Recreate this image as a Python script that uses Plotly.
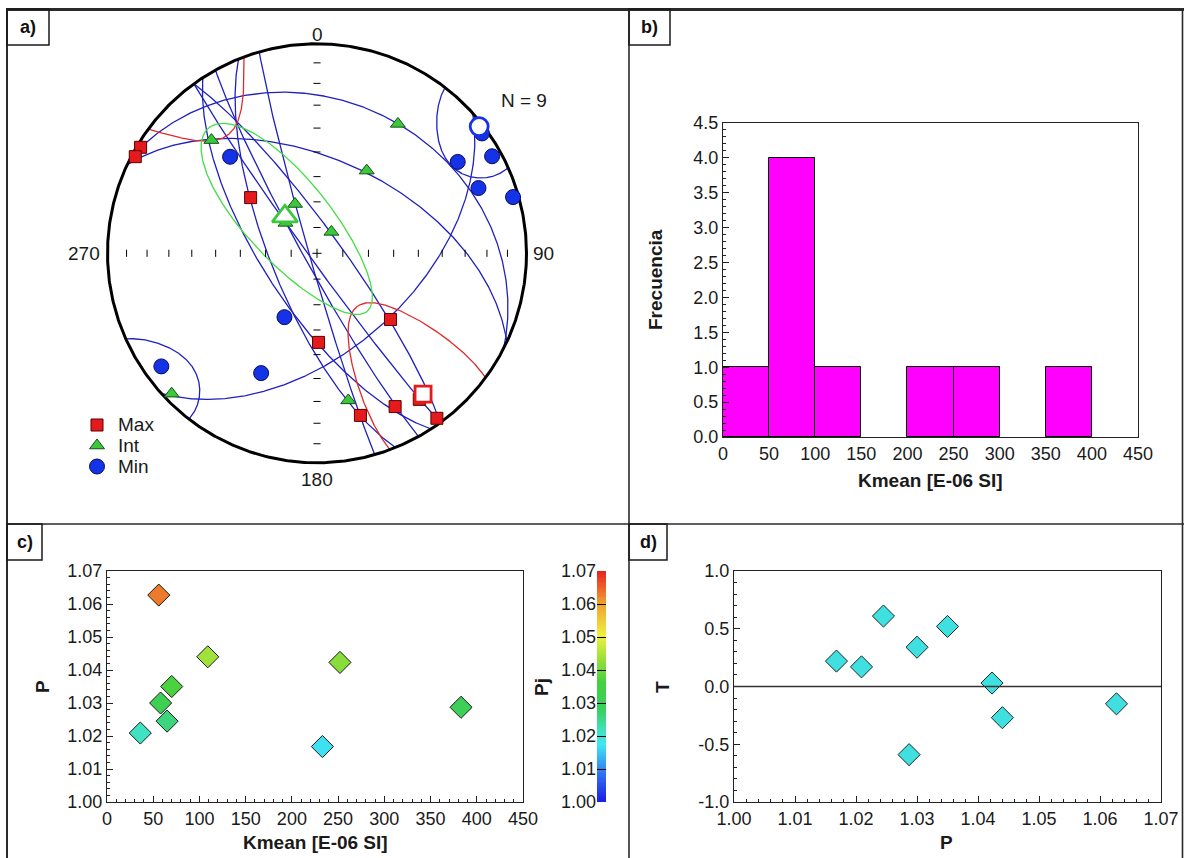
import numpy as np
import plotly.graph_objects as go

W, H = 1184, 858
FONT = "Arial, 'Liberation Sans', sans-serif"

# ---------------------------------------------------------------
# Principal susceptibility axes of the 9 specimens (trend, plunge in degrees)
k1_trend = [301, 298, 310, 132, 179, 145, 153, 165, 144]
k1_plunge = [2, 2, 56, 51, 55, 16, 19, 21, 3]
k2_trend = [317, 32, 31, 336, 314, 34, 226, 168, 319]
k2_plunge = [27, 28, 52, 69, 73, 80, 4, 29, 71]
k3_trend = [318, 57, 61, 68, 74, 54, 207, 234, 205]
k3_plunge = [38, 21, 5, 18, 3, 3, 62, 9, 37]

# Mean tensor axes (Max, Int, Min) and their confidence ellipses (degrees)
mean_trend = [143, 319, 52]
mean_plunge = [17, 71, 2]
ell_major = [47, 49, 23]
ell_minor = [18, 16, 14]
ell_rot = [0, 0, 10]

# Scalar parameters per specimen
P_values = [1.0168, 1.0209, 1.0245, 1.0287, 1.0300, 1.0350, 1.0423, 1.0440, 1.0627]
T_values = [0.22, 0.17, 0.61, -0.59, 0.34, 0.52, 0.03, -0.27, -0.15]
Pj_values = [1.017, 1.021, 1.026, 1.030, 1.031, 1.037, 1.042, 1.044, 1.063]
kmean = [233, 36, 65, 383, 58, 70, 252, 109, 56]

# Tick labels
hist_xticks = [0, 50, 100, 150, 200, 250, 300, 350, 400, 450]
p_ticks = [1.00, 1.01, 1.02, 1.03, 1.04, 1.05, 1.06, 1.07]
t_ticks = [-1.0, -0.5, 0.0, 0.5, 1.0]
freq_ticks = [0.0, 0.5, 1.0, 1.5, 2.0, 2.5, 3.0, 3.5, 4.0, 4.5]

PJ_SCALE = [
    [0.00, "#1A1AE6"], [0.12, "#3070F0"], [0.25, "#3FE8F2"], [0.32, "#3FE0B0"],
    [0.40, "#3ACF60"], [0.52, "#45D040"], [0.62, "#9AE03A"], [0.72, "#F0F040"],
    [0.86, "#F0A030"], [1.00, "#E82020"],
]

# ---------------------------------------------------------------
# Equal-area (Schmidt) lower-hemisphere projection helpers
R2 = np.sqrt(2.0)


def to_vec(trend, plunge):
    t = np.radians(np.atleast_1d(np.asarray(trend, float)))
    p = np.radians(np.atleast_1d(np.asarray(plunge, float)))
    return np.array([np.cos(p) * np.sin(t), np.cos(p) * np.cos(t), np.sin(p)])


def schmidt(v):
    v = np.array(v, float).reshape(3, -1)
    v = v / np.linalg.norm(v, axis=0)
    up = v[2] < 0
    v[:, up] *= -1
    c = np.arccos(np.clip(v[2], -1, 1))
    r = R2 * np.sin(c / 2)
    h = np.hypot(v[0], v[1])
    h = np.where(h < 1e-12, 1.0, h)
    return r * v[0] / h, r * v[1] / h


def great_circle(pole):
    p = pole / np.linalg.norm(pole)
    h = np.cross(p, [0.0, 0.0, 1.0])
    h /= np.linalg.norm(h)
    w = np.cross(p, h)
    w /= np.linalg.norm(w)
    if w[2] < 0:
        w = -w
    th = np.linspace(0, np.pi, 361)
    v = np.outer(h, np.cos(th)) + np.outer(w, np.sin(th))
    return schmidt(v)


def cone(trend, plunge, a, b, rot, n=1441):
    t, p = np.radians(trend), np.radians(plunge)
    m = to_vec(trend, plunge)[:, 0]
    e1 = np.array([-np.sin(p) * np.sin(t), -np.sin(p) * np.cos(t), np.cos(p)])
    e2 = np.cross(m, e1)
    g = np.radians(rot)
    M = np.cos(g) * e1 + np.sin(g) * e2
    N = -np.sin(g) * e1 + np.cos(g) * e2
    s = np.linspace(0, 2 * np.pi, n)
    A, B = np.radians(a), np.radians(b)
    rho = A * B / np.sqrt((B * np.cos(s)) ** 2 + (A * np.sin(s)) ** 2)
    v = np.outer(m, np.cos(rho)) + np.sin(rho) * (np.outer(M, np.cos(s)) + np.outer(N, np.sin(s)))
    up = v[2] < 0
    x, y = schmidt(v)
    xs, ys = [], []
    for i in range(n):
        if i > 0 and up[i] != up[i - 1]:
            xs.append(None)
            ys.append(None)
        xs.append(x[i])
        ys.append(y[i])
    return xs, ys


def px(xp):
    return xp / W


def py(yp):
    return 1 - yp / H


fig = go.Figure()

# ---------------------------------------------------------------
# a) stereonet
CX, CY, RAD = 317, 253.3, 209.5
BLUE_LINE = "#2020C0"
gx, gy = [], []
for tr, pl in zip(k3_trend, k3_plunge):
    x, y = great_circle(to_vec(tr, pl)[:, 0])
    gx += list(x) + [None]
    gy += list(y) + [None]
fig.add_trace(go.Scatter(x=gx, y=gy, mode="lines", line=dict(color=BLUE_LINE, width=1.3),
                         xaxis="x", yaxis="y", hoverinfo="skip", showlegend=False))

ell_colors = ["#E02A2A", "#44DD44", BLUE_LINE]
for i in range(3):
    ex, ey = cone(mean_trend[i], mean_plunge[i], ell_major[i], ell_minor[i], ell_rot[i])
    fig.add_trace(go.Scatter(x=ex, y=ey, mode="lines", line=dict(color=ell_colors[i], width=1.3),
                             xaxis="x", yaxis="y", hoverinfo="skip", showlegend=False))

# primitive circle
ang = np.linspace(0, 2 * np.pi, 721)
fig.add_trace(go.Scatter(x=np.cos(ang), y=np.sin(ang), mode="lines",
                         line=dict(color="black", width=3), xaxis="x", yaxis="y",
                         hoverinfo="skip", showlegend=False))

# plunge ticks along the N-S and E-W diameters, every 10 degrees
tick_r = [R2 * np.sin(np.radians(90 - pl) / 2) for pl in range(10, 90, 10)]
tl = 0.017
tx, ty = [], []
for r in tick_r:
    for sgn in (1, -1):
        tx += [-tl, tl, None]
        ty += [sgn * r, sgn * r, None]
        tx += [sgn * r, sgn * r, None]
        ty += [-tl, tl, None]
tx += [-0.022, 0.022, None, 0, 0]
ty += [0, 0, None, -0.022, 0.022]
fig.add_trace(go.Scatter(x=tx, y=ty, mode="lines", line=dict(color="black", width=1),
                         xaxis="x", yaxis="y", hoverinfo="skip", showlegend=False))

RED, GREEN, BLUE = "#E41A1C", "#3CC83C", "#1533E6"
EDGES = ["#5a0000", "#145214", "#0a0a60"]
SYMS = ["square", "triangle-up", "circle"]
SIZES = [12, 13, 15]
for (tr, pl), sym, col, edge, size in zip([(k1_trend, k1_plunge), (k2_trend, k2_plunge), (k3_trend, k3_plunge)],
                                          SYMS, [RED, GREEN, BLUE], EDGES, SIZES):
    x, y = schmidt(to_vec(tr, pl))
    fig.add_trace(go.Scatter(x=x, y=y, mode="markers", cliponaxis=False,
                             marker=dict(symbol=sym, size=size, color=col, line=dict(color=edge, width=1)),
                             xaxis="x", yaxis="y", hoverinfo="skip", showlegend=False))

for i, (sym, col, size) in enumerate([("square", RED, 16), ("triangle-up", GREEN, 22), ("circle", BLUE, 18)]):
    x, y = schmidt(to_vec(mean_trend[i], mean_plunge[i]))
    fig.add_trace(go.Scatter(x=x, y=y, mode="markers", cliponaxis=False,
                             marker=dict(symbol=sym, size=size, color="white", line=dict(color=col, width=2.8)),
                             xaxis="x", yaxis="y", hoverinfo="skip", showlegend=False))

# legend of the stereonet
leg_names = ["Max", "Int", "Min"]
leg_y = [425, 445.5, 466.5]
for yp, sym, col, edge, size in zip(leg_y, SYMS, [RED, GREEN, BLUE], EDGES, SIZES):
    fig.add_trace(go.Scatter(x=[(97 - CX) / RAD], y=[(CY - yp) / RAD], mode="markers",
                             cliponaxis=False,
                             marker=dict(symbol=sym, size=size, color=col, line=dict(color=edge, width=1)),
                             xaxis="x", yaxis="y", hoverinfo="skip", showlegend=False))

# ---------------------------------------------------------------
# b) histogram of Kmean
fig.add_trace(go.Histogram(x=kmean, xbins=dict(start=0, end=450, size=50), autobinx=False,
                           marker=dict(color="#FF00FF", line=dict(color="black", width=1)),
                           xaxis="x2", yaxis="y2", showlegend=False, hoverinfo="skip"))

# ---------------------------------------------------------------
# c) P vs Kmean coloured by Pj
fig.add_trace(go.Scatter(x=kmean, y=P_values, mode="markers", cliponaxis=False,
                         marker=dict(symbol="diamond", size=17, color=Pj_values, colorscale=PJ_SCALE,
                                     cmin=1.0, cmax=1.07, showscale=False,
                                     line=dict(color="#1a1a1a", width=1)),
                         xaxis="x3", yaxis="y3", showlegend=False, hoverinfo="skip"))

# Pj colour bar
levels = np.linspace(1.0, 1.07, 141)
fig.add_trace(go.Heatmap(z=[[v] for v in levels], x=[0], y=levels, colorscale=PJ_SCALE,
                         zmin=1.0, zmax=1.07, showscale=False, xaxis="x5", yaxis="y5",
                         hoverinfo="skip"))

# ---------------------------------------------------------------
# d) T vs P
fig.add_trace(go.Scatter(x=P_values, y=T_values, mode="markers", cliponaxis=False,
                         marker=dict(symbol="diamond", size=17, color="#40E0E0",
                                     line=dict(color="#1a2a2a", width=1)),
                         xaxis="x4", yaxis="y4", showlegend=False, hoverinfo="skip"))

# ---------------------------------------------------------------
tickfont = dict(family=FONT, size=18, color="#1a1a1a")
frame_axis = dict(showline=True, linecolor="#222", linewidth=1, mirror=True, showgrid=False,
                  zeroline=False, tickfont=tickfont, tickcolor="#222", fixedrange=True,
                  automargin=False)

S = 229.5 / RAD
fig.update_layout(
    template="none",
    width=W, height=H, margin=dict(l=0, r=0, t=0, b=0, pad=0, autoexpand=False),
    paper_bgcolor="white", plot_bgcolor="white",
    font=dict(family=FONT, color="#1a1a1a"),
    bargap=0,
    xaxis=dict(domain=[px(CX - 229.5), px(CX + 229.5)], range=[-S, S], visible=False, anchor="y",
               automargin=False),
    yaxis=dict(domain=[py(CY + 229.5), py(CY - 229.5)], range=[-S, S], visible=False, anchor="x",
               automargin=False),
    xaxis2=dict(frame_axis, domain=[px(723), px(1138)], anchor="y2", range=[0, 450],
                tickmode="array", tickvals=hist_xticks, ticks=""),
    yaxis2=dict(frame_axis, domain=[py(437), py(123)], anchor="x2", range=[0, 4.5],
                tickmode="array", tickvals=freq_ticks, ticktext=[f"{v:.1f}" for v in freq_ticks],
                ticks="inside", ticklen=6,
                minor=dict(dtick=0.1, tick0=0, ticks="inside", ticklen=3, tickcolor="#222")),
    xaxis3=dict(frame_axis, domain=[px(107), px(523)], anchor="y3", range=[0, 450],
                tickmode="array", tickvals=hist_xticks, ticks="inside", ticklen=6,
                minor=dict(dtick=10, tick0=0, ticks="inside", ticklen=3, tickcolor="#222")),
    yaxis3=dict(frame_axis, domain=[py(802), py(571)], anchor="x3", range=[1.0, 1.07],
                tickmode="array", tickvals=p_ticks, ticktext=[f"{v:.2f}" for v in p_ticks],
                ticks="inside", ticklen=6,
                minor=dict(dtick=0.002, tick0=1.0, ticks="inside", ticklen=3, tickcolor="#222")),
    xaxis4=dict(frame_axis, domain=[px(734), px(1161)], anchor="y4", range=[1.0, 1.07],
                tickmode="array", tickvals=p_ticks, ticktext=[f"{v:.2f}" for v in p_ticks],
                ticks="inside", ticklen=6,
                minor=dict(dtick=0.002, tick0=1.0, ticks="inside", ticklen=3, tickcolor="#222")),
    yaxis4=dict(frame_axis, domain=[py(802), py(571)], anchor="x4", range=[-1.0, 1.0],
                tickmode="array", tickvals=t_ticks, ticktext=[f"{v:.1f}" for v in t_ticks],
                ticks="inside", ticklen=6,
                minor=dict(dtick=0.1, tick0=-1.0, ticks="inside", ticklen=3, tickcolor="#222")),
    xaxis5=dict(domain=[px(597), px(606)], anchor="y5", range=[-0.5, 0.5], visible=False,
                automargin=False),
    yaxis5=dict(domain=[py(802), py(571)], anchor="x5", range=[1.0, 1.07], side="left",
                tickmode="array", tickvals=p_ticks, ticktext=[f"{v:.2f}" for v in p_ticks],
                ticks="inside", ticklen=9, tickcolor="black", tickwidth=1.2,
                showline=False, showgrid=False, zeroline=False, tickfont=tickfont, fixedrange=True,
                automargin=False),
)

# zero line in the T-P plot
fig.add_shape(type="line", xref="x4 domain", yref="y4", x0=0, x1=1, y0=0, y1=0,
              line=dict(color="#333", width=1.5))

# panel frame
for x0, y0, x1, y1, wd in [
    (6, 9.5, 1184, 9.5, 3), (7, 9, 7, 858, 2), (629, 9, 629, 858, 1.6),
    (7, 524, 1184, 524, 1.6), (1182.5, 9, 1182.5, 858, 1.6),
]:
    fig.add_shape(type="line", xref="paper", yref="paper", x0=px(x0), x1=px(x1), y0=py(y0), y1=py(y1),
                  line=dict(color="#2a2a2a", width=wd))

# panel label boxes
for lab, (x0, y0, x1, y1) in [("a)", (7, 9, 49, 45)), ("b)", (629, 9, 670, 45)),
                               ("c)", (7, 524, 42, 560)), ("d)", (629, 524, 667, 560))]:
    fig.add_shape(type="rect", xref="paper", yref="paper", x0=px(x0), x1=px(x1), y0=py(y1), y1=py(y0),
                  line=dict(color="#1a1a1a", width=1.5), fillcolor="rgba(0,0,0,0)")
    fig.add_annotation(x=px((x0 + x1) / 2), y=py((y0 + y1) / 2), xref="paper", yref="paper",
                       xanchor="center", yanchor="middle",
                       text=f"<b>{lab}</b>", showarrow=False, font=dict(family=FONT, size=18, color="#111"))

# stereonet labels
lab_font = dict(family=FONT, size=19, color="#1a1a1a")
for text, x, y, xa in [("0", 0, 1.045, "center"), ("180", 0, -1.078, "center"),
                       ("270", -1.025, 0, "right"), ("90", 1.022, 0, "left")]:
    fig.add_annotation(x=x, y=y, xref="x", yref="y", text=text, showarrow=False, xanchor=xa,
                       yanchor="middle", font=lab_font)
fig.add_annotation(x=px(499), y=py(100), xref="paper", yref="paper", text="N = 9", showarrow=False,
                   xanchor="left", yanchor="middle", font=dict(family=FONT, size=19, color="#1a1a1a"))
for name, yp in zip(leg_names, leg_y):
    fig.add_annotation(x=px(116), y=py(yp), xref="paper", yref="paper", text=name, showarrow=False,
                       xanchor="left", yanchor="middle", font=dict(family=FONT, size=19, color="#1a1a1a"))

# axis titles
title_font = dict(family=FONT, size=19, color="#1a1a1a")
for text, x, y, rot in [
    ("<b>Frecuencia</b>", 655, 280, -90), ("<b>Kmean [E-06 SI]</b>", 930, 481, 0),
    ("<b>P</b>", 42, 687, -90), ("<b>Kmean [E-06 SI]</b>", 315, 842, 0),
    ("<b>Pj</b>", 541, 687, -90),
    ("<b>T</b>", 662, 687, -90), ("<b>P</b>", 947, 842, 0),
]:
    fig.add_annotation(x=px(x), y=py(y), xref="paper", yref="paper", text=text, showarrow=False,
                       textangle=rot, xanchor="center", yanchor="middle", font=title_font)

fig.write_html("out.html")
